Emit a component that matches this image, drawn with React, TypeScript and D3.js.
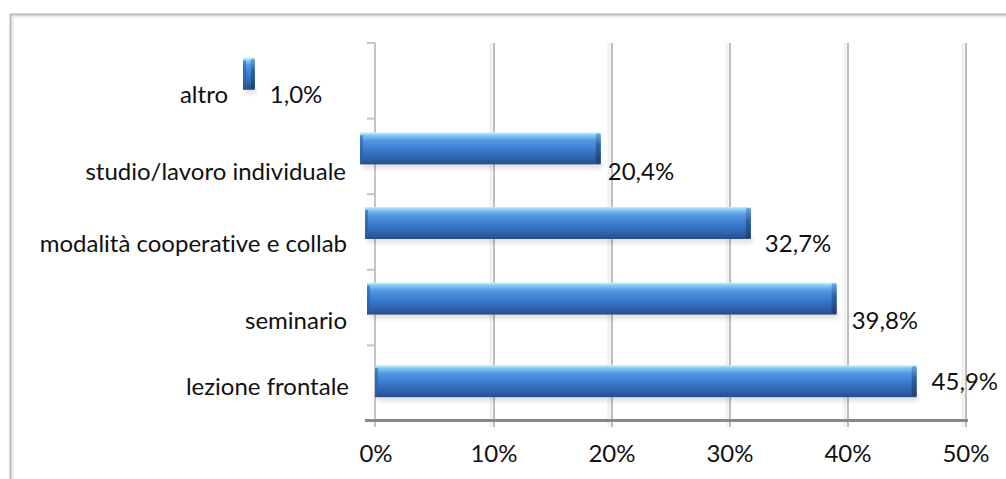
import React, { useEffect, useRef } from 'react';
import * as d3 from 'd3';

const categories = ['altro', 'studio/lavoro individuale', 'modalità cooperative e collab', 'seminario', 'lezione frontale'];
const values = [1.0, 20.4, 32.7, 39.8, 45.9];
const xTicks = [0, 10, 20, 30, 40, 50];

// pseudo-3D placement quirks from the original (per row): bar x shift, bar y shift, label right edge, value label dx/dy
const rowLayout = [
  { shift: -133, dy: -7, labelRight: 228, vdx: 15, vdy: 29 },
  { shift: -16, dy: -8, labelRight: 346, vdx: 7, vdy: 32 },
  { shift: -11, dy: -9, labelRight: 347, vdx: 14, vdy: 29 },
  { shift: -9, dy: -9, labelRight: 347, vdx: 15, vdy: 30 },
  { shift: -1, dy: -2, labelRight: 349, vdx: 15, vdy: 9 },
];

const fmt = (v: number) => v.toFixed(1).replace('.', ',') + '%';

export default function App() {
  const svgRef = useRef<SVGSVGElement>(null);

  useEffect(() => {
    if (!svgRef.current) return;
    const svg = d3.select(svgRef.current);
    svg.selectAll('*').remove();

    const font = 'Lato, Carlito, "Open Sans", sans-serif';
    const fs = 24;
    const top = 43, bottom = 421;
    const x = d3.scaleLinear().domain([0, 50]).range([376, 966]);
    const y = d3.scaleBand().domain(categories).range([top, bottom]);

    const defs = svg.append('defs');
    const grad = defs.append('linearGradient').attr('id', 'barGrad')
      .attr('x1', 0).attr('y1', 0).attr('x2', 0).attr('y2', 1);
    [
      ['0%', '#c8f0fb'], ['9%', '#86caf4'], ['25%', '#5299e2'],
      ['55%', '#3a79cc'], ['80%', '#2f63ad'], ['100%', '#2a4d86'],
    ].forEach(([o, c]) => grad.append('stop').attr('offset', o).attr('stop-color', c));
    const capGrad = defs.append('linearGradient').attr('id', 'capGrad')
      .attr('x1', 0).attr('y1', 0).attr('x2', 0).attr('y2', 1);
    [['0%', '#6aa6de'], ['40%', '#2e62a8'], ['100%', '#223f70']]
      .forEach(([o, c]) => capGrad.append('stop').attr('offset', o).attr('stop-color', c));
    const shadow = defs.append('filter').attr('id', 'soft').attr('x', '-10%').attr('y', '-50%').attr('width', '120%').attr('height', '200%');
    shadow.append('feGaussianBlur').attr('stdDeviation', 2);

    // frame
    svg.append('line').attr('x1', 10.5).attr('x2', 10.5).attr('y1', 14).attr('y2', 479)
      .attr('stroke', '#b8b8b8').attr('stroke-width', 2);
    svg.append('line').attr('x1', 10).attr('x2', 1006).attr('y1', 14.5).attr('y2', 14.5)
      .attr('stroke', '#b8b8b8').attr('stroke-width', 2);
    svg.append('line').attr('x1', 13).attr('x2', 13).attr('y1', 16).attr('y2', 479)
      .attr('stroke', '#ececec').attr('stroke-width', 2);
    svg.append('line').attr('x1', 12).attr('x2', 1006).attr('y1', 17).attr('y2', 17)
      .attr('stroke', '#ececec').attr('stroke-width', 2);

    // gridlines
    const grid = svg.append('g');
    xTicks.slice(1).forEach(t => {
      grid.append('line').attr('x1', x(t) - 3).attr('x2', x(t) - 3).attr('y1', top).attr('y2', bottom + 6)
        .attr('stroke', '#f0f0f0').attr('stroke-width', 3);
      grid.append('line').attr('x1', x(t)).attr('x2', x(t)).attr('y1', top).attr('y2', bottom + 6)
        .attr('stroke', '#bdbdbd').attr('stroke-width', 2);
    });

    // left axis with tick hooks
    const yAxis = svg.append('g');
    yAxis.append('line').attr('x1', 375).attr('x2', 375).attr('y1', top).attr('y2', bottom + 6)
      .attr('stroke', '#c4c4c4').attr('stroke-width', 2);
    categories.forEach(c => {
      const ty = y(c)!;
      yAxis.append('line').attr('x1', 367).attr('x2', 375).attr('y1', ty).attr('y2', ty)
        .attr('stroke', '#c4c4c4').attr('stroke-width', 2);
    });

    // bottom axis
    svg.append('line').attr('x1', 365).attr('x2', 968).attr('y1', 420.5).attr('y2', 420.5)
      .attr('stroke', '#888').attr('stroke-width', 3);
    svg.append('g').selectAll('text').data(xTicks).join('text')
      .attr('x', d => x(d)).attr('y', 462).attr('text-anchor', 'middle')
      .attr('font-family', font).attr('font-size', fs).attr('fill', '#111')
      .text(d => d + '%');

    // bars
    const barH = 32;
    const bars = svg.append('g');
    categories.forEach((c, i) => {
      const L = rowLayout[i];
      const cy = y(c)! + y.bandwidth() / 2 + L.dy;
      const x0 = x(0) + L.shift;
      const w = x(values[i]) - x(0);
      bars.append('rect').attr('x', x0 + 2).attr('y', cy + barH / 2 - 2).attr('width', w).attr('height', 6)
        .attr('fill', '#000').attr('opacity', 0.12).attr('filter', 'url(#soft)');
      bars.append('rect').attr('x', x0).attr('y', cy - barH / 2).attr('width', w).attr('height', barH)
        .attr('fill', 'url(#barGrad)');
      const capW = Math.min(5, w / 3);
      bars.append('rect').attr('x', x0 + w - capW).attr('y', cy - barH / 2 + 1).attr('width', capW).attr('height', barH - 2)
        .attr('rx', 1.5).attr('fill', 'url(#capGrad)');
      bars.append('rect').attr('x', x0).attr('y', cy - barH / 2 + 3).attr('width', Math.min(3, w / 4)).attr('height', barH - 6)
        .attr('fill', '#2c5fa5').attr('opacity', 0.6);

      // value label
      svg.append('text').attr('x', x0 + w + L.vdx).attr('y', cy + L.vdy)
        .attr('font-family', font).attr('font-size', fs).attr('fill', '#111')
        .style('font-variant-ligatures', 'none')
        .text(fmt(values[i]));
      // category label
      svg.append('text').attr('x', L.labelRight).attr('y', cy + L.vdy - (i === 4 ? -5 : 0))
        .attr('text-anchor', 'end')
        .attr('font-family', font).attr('font-size', fs).attr('fill', '#111')
        .style('font-variant-ligatures', 'none')
        .text(c);
    });
  }, []);

  return (
    <div style={{ position: 'absolute', left: 0, top: 0, width: 1006, height: 479, background: '#fff' }}>
      <svg ref={svgRef} width={1006} height={479} style={{ display: 'block' }} />
    </div>
  );
}
